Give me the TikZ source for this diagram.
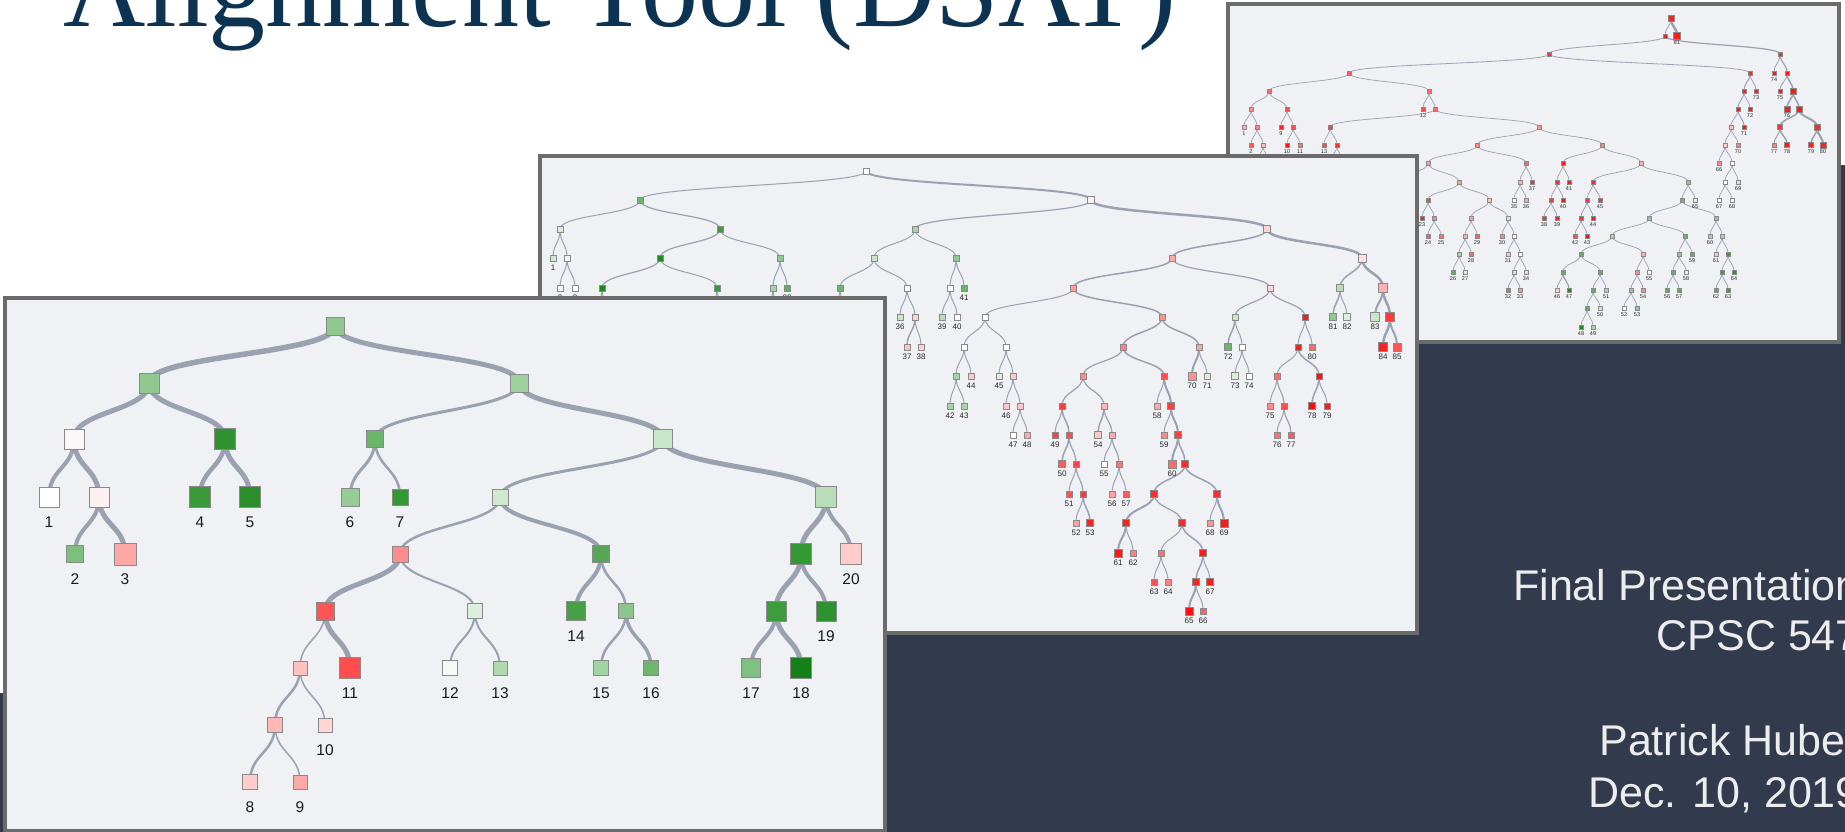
\documentclass[tikz,border=0pt]{standalone}
\usepackage{fontspec}
\setmainfont{Liberation Sans}
\newfontfamily\titlefont{Liberation Serif}
\usetikzlibrary{calc}
\definecolor{slidedark}{HTML}{323A4D}
\definecolor{titleblue}{HTML}{0C3352}
\definecolor{panelbg}{HTML}{EFF1F5}
\definecolor{panelframe}{HTML}{6B6B6B}
\definecolor{edgegray}{HTML}{9AA1B0}
\definecolor{sqborder}{HTML}{8A8A8A}
\definecolor{subtext}{HTML}{EDEDED}
\tikzset{
  panel/.style={fill=panelbg, draw=panelframe, line width=4pt},
  treeedge/.style={draw=edgegray, line cap=butt},
  sqbase/.style={rectangle, draw=sqborder, inner sep=0pt, outer sep=0pt},
  subline/.style={anchor=base east, text=subtext, inner sep=0pt, font=\fontsize{43}{50}\selectfont},
}
\newcommand\NdGhost[6]{\coordinate (#1) at (#2,#3);}
\newcommand\NdShow[6]{\definecolor{tmpc}{HTML}{#5}\node[treesq, minimum size=#4pt, fill=tmpc] (#1) at (#2,#3) {};\if\relax\detokenize{#6}\relax\else\node[treelbl] (#1-lbl) at (#2,#3+\lbloff) {#6};\fi}
\newcommand\TrEdge[3]{\draw[treeedge, line width=#3pt] let \p1=(#1), \p2=(#2), \p3=($(#1)!0.5!(#2)$) in (\p1) .. controls (\x1,\y3) and (\x2,\y3) .. (\p2);}

% ---------------- back tree ----------------
\newcommand\BackNodes{%
\TrNode{b0}{1671}{18}{6}{FF2020}{}%
\TrNode{b1}{1665}{36}{4}{FF1A1A}{}%
\TrNode{b81}{1677}{36}{7}{FF1A1A}{81}%
\TrNode{bL}{1549}{54}{4}{FF3030}{}%
\TrNode{b2}{1780}{54}{4}{FF2A2A}{}%
\TrNode{b3}{1349}{73}{4}{FF6060}{}%
\TrNode{b4}{1750}{73}{4}{FF2A2A}{}%
\TrNode{b5}{1269}{91}{4}{FF6A6A}{}%
\TrNode{b6}{1429}{91}{4}{FF6A6A}{}%
\TrNode{b7}{1251}{109}{4}{FF9090}{}%
\TrNode{b8}{1287}{109}{4}{FF4A4A}{}%
\TrNode{bl1}{1244}{127}{4}{FFB0B0}{1}%
\TrNode{b9}{1257}{127}{4}{FF8080}{}%
\TrNode{bl2}{1251}{145}{4}{FF5A5A}{2}%
\TrNode{bh1}{1263}{145}{4}{FFC0C0}{}%
\TrNode{bh1a}{1257}{163}{4}{FFC0C0}{}%
\TrNode{bh1b}{1269}{163}{4}{FFC0C0}{}%
\TrNode{bl9}{1281}{127}{4}{FF2020}{9}%
\TrNode{b10}{1293}{127}{4}{FF4A4A}{}%
\TrNode{bl10}{1287}{145}{4}{FF1010}{10}%
\TrNode{bl11}{1300}{145}{4}{FF7070}{11}%
\TrNode{bl12}{1423}{109}{4}{FF4A4A}{12}%
\TrNode{b12}{1435}{109}{4}{FF6A6A}{}%
\TrNode{b13}{1330}{127}{4}{FF3A3A}{}%
\TrNode{b14}{1539}{127}{4}{FF9090}{}%
\TrNode{bl13}{1324}{145}{4}{FF4A4A}{13}%
\TrNode{bh2}{1337}{145}{4}{FF3030}{}%
\TrNode{bh2a}{1330}{163}{4}{FF3030}{}%
\TrNode{bh2b}{1343}{163}{4}{FF3030}{}%
\TrNode{b15}{1477}{145}{4}{FF8080}{}%
\TrNode{b16}{1602}{145}{4}{FF8080}{}%
\TrNode{b17}{1428}{163}{4}{FF9A9A}{}%
\TrNode{b18}{1526}{163}{4}{FF6A6A}{}%
\TrNode{bh3}{1400}{182}{4}{FFAAAA}{}%
\TrNode{b19}{1459}{182}{4}{FF9A9A}{}%
\TrNode{b20}{1428}{200}{4}{FF4040}{}%
\TrNode{b21}{1489}{200}{4}{FFC0C0}{}%
\TrNode{bl23}{1422}{218}{4}{FF2020}{23}%
\TrNode{b22}{1434}{218}{4}{FF8080}{}%
\TrNode{bl24}{1428}{236}{4}{FF5A5A}{24}%
\TrNode{bl25}{1441}{236}{4}{FF7070}{25}%
\TrNode{b23}{1471}{218}{4}{FFA0A0}{}%
\TrNode{b24}{1508}{218}{4}{FFD0D0}{}%
\TrNode{b25}{1465}{236}{4}{FFB0B0}{}%
\TrNode{bl29}{1477}{236}{4}{FF6060}{29}%
\TrNode{b26}{1459}{254}{4}{A8D5A8}{}%
\TrNode{bl28}{1471}{254}{4}{FF6A6A}{28}%
\TrNode{bl26}{1453}{272}{4}{5DAE5D}{26}%
\TrNode{bl27}{1465}{272}{4}{DDEEDD}{27}%
\TrNode{bl30}{1502}{236}{4}{FF8888}{30}%
\TrNode{b27}{1514}{236}{4}{FFFFFF}{}%
\TrNode{bl31}{1508}{254}{4}{FFC0C0}{31}%
\TrNode{b28}{1520}{254}{4}{FFFFFF}{}%
\TrNode{b29}{1514}{272}{4}{C8E6C8}{}%
\TrNode{bl34}{1526}{272}{4}{FFD0D0}{34}%
\TrNode{bl32}{1508}{290}{4}{5DAE5D}{32}%
\TrNode{bl33}{1520}{290}{4}{FF9090}{33}%
\TrNode{b30}{1520}{182}{4}{FFB0B0}{}%
\TrNode{bl37}{1532}{182}{4}{FF2A2A}{37}%
\TrNode{bl35}{1514}{200}{4}{FFFFFF}{35}%
\TrNode{bl36}{1526}{200}{4}{FFA0A0}{36}%
\TrNode{b31}{1563}{163}{4}{FF1A1A}{}%
\TrNode{b32}{1641}{163}{4}{FFB0B0}{}%
\TrNode{b33}{1557}{182}{4}{FF2A2A}{}%
\TrNode{bl41}{1569}{182}{4}{FF1A1A}{41}%
\TrNode{b34}{1551}{200}{4}{FF3030}{}%
\TrNode{bl40}{1563}{200}{4}{FF1010}{40}%
\TrNode{bl38}{1544}{218}{4}{FF3030}{38}%
\TrNode{bl39}{1557}{218}{4}{FF2020}{39}%
\TrNode{b35}{1593}{182}{4}{FF2A2A}{}%
\TrNode{b36}{1688}{182}{4}{8FC98F}{}%
\TrNode{b37}{1587}{200}{4}{FF3030}{}%
\TrNode{bl45}{1600}{200}{4}{FF3030}{45}%
\TrNode{b38}{1581}{218}{4}{FF3030}{}%
\TrNode{bl44}{1593}{218}{4}{FF1A1A}{44}%
\TrNode{bl42}{1575}{236}{4}{FF4A4A}{42}%
\TrNode{bl43}{1587}{236}{4}{FF1010}{43}%
\TrNode{b39}{1682}{200}{4}{6DB46D}{}%
\TrNode{bl65}{1695}{200}{4}{DDEEDD}{65}%
\TrNode{b40}{1649}{218}{4}{8FC98F}{}%
\TrNode{b41}{1716}{218}{4}{8FC98F}{}%
\TrNode{b42}{1612}{236}{4}{A8D5A8}{}%
\TrNode{b44}{1685}{236}{4}{6DB46D}{}%
\TrNode{b45}{1581}{254}{4}{5DAE5D}{}%
\TrNode{b46}{1643}{254}{4}{FFB0B0}{}%
\TrNode{b47}{1563}{272}{4}{5DAE5D}{}%
\TrNode{b48}{1600}{272}{4}{5DAE5D}{}%
\TrNode{bl46}{1557}{290}{4}{FFD0D0}{46}%
\TrNode{bl47}{1569}{290}{4}{1E8C1E}{47}%
\TrNode{b49}{1593}{290}{4}{5DAE5D}{}%
\TrNode{bl51}{1606}{290}{4}{A8D5A8}{51}%
\TrNode{b50}{1587}{308}{4}{5DAE5D}{}%
\TrNode{bl50}{1600}{308}{4}{C8E6C8}{50}%
\TrNode{bl48}{1581}{327}{4}{1E8C1E}{48}%
\TrNode{bl49}{1593}{327}{4}{A8D5A8}{49}%
\TrNode{b51p}{1637}{272}{4}{FF8888}{}%
\TrNode{bl55}{1649}{272}{4}{FFFFFF}{55}%
\TrNode{b51}{1631}{290}{4}{8FC98F}{}%
\TrNode{bl54}{1643}{290}{4}{FF8888}{54}%
\TrNode{bl52}{1624}{308}{4}{FFFFFF}{52}%
\TrNode{bl53}{1637}{308}{4}{8FC98F}{53}%
\TrNode{b52}{1679}{254}{4}{8FC98F}{}%
\TrNode{bl59}{1692}{254}{4}{5DAE5D}{59}%
\TrNode{b52a}{1673}{272}{4}{5DAE5D}{}%
\TrNode{bl58}{1686}{272}{4}{DDEEDD}{58}%
\TrNode{bl56}{1667}{290}{4}{5DAE5D}{56}%
\TrNode{bl57}{1679}{290}{4}{5DAE5D}{57}%
\TrNode{bl60}{1710}{236}{4}{A8D5A8}{60}%
\TrNode{b53}{1722}{236}{4}{A8D5A8}{}%
\TrNode{bl61}{1716}{254}{4}{FFC0C0}{61}%
\TrNode{b54}{1728}{254}{4}{3E9C3E}{}%
\TrNode{b55}{1722}{272}{4}{3E9C3E}{}%
\TrNode{bl64}{1734}{272}{4}{2E922E}{64}%
\TrNode{bl62}{1716}{290}{4}{5DAE5D}{62}%
\TrNode{bl63}{1728}{290}{4}{3E9C3E}{63}%
\TrNode{b56}{1744}{91}{4}{FF1A1A}{}%
\TrNode{bl73}{1756}{91}{4}{FF1A1A}{73}%
\TrNode{b57}{1738}{109}{4}{FF1A1A}{}%
\TrNode{bl72}{1750}{109}{4}{FF1A1A}{72}%
\TrNode{b58}{1731}{127}{4}{FFC0C0}{}%
\TrNode{bl71}{1744}{127}{4}{FF1010}{71}%
\TrNode{b59}{1725}{145}{4}{FFD0D0}{}%
\TrNode{bl70}{1738}{145}{4}{FF8080}{70}%
\TrNode{bl66}{1719}{163}{4}{FF8888}{66}%
\TrNode{b60}{1732}{163}{4}{FFFFFF}{}%
\TrNode{b61}{1725}{182}{4}{FFFFFF}{}%
\TrNode{bl69}{1738}{182}{4}{FFD0D0}{69}%
\TrNode{bl67}{1719}{200}{4}{FFFFFF}{67}%
\TrNode{bl68}{1732}{200}{4}{FFFFFF}{68}%
\TrNode{bl74}{1774}{73}{4}{FF1A1A}{74}%
\TrNode{b62}{1787}{73}{4.5}{FF1A1A}{}%
\TrNode{bl75}{1780}{91}{4}{FF1A1A}{75}%
\TrNode{b63}{1793}{91}{5.5}{FF1A1A}{}%
\TrNode{bl76}{1787}{109}{5.5}{FF1A1A}{76}%
\TrNode{b64}{1799}{109}{5.5}{FF1A1A}{}%
\TrNode{b65}{1780}{127}{5}{FF3030}{}%
\TrNode{b66}{1817}{127}{5.5}{FF2A2A}{}%
\TrNode{bl77}{1774}{145}{4.5}{FF8080}{77}%
\TrNode{bl78}{1787}{145}{5}{FF1A1A}{78}%
\TrNode{bl79}{1811}{145}{5}{FF2020}{79}%
\TrNode{bl80}{1823}{145}{5.5}{FF2020}{80}%
}
\newcommand\BackEdges{%
\TrEdge{b0}{b1}{0.8}\TrEdge{b0}{b81}{2.5}\TrEdge{b1}{bL}{0.8}\TrEdge{b1}{b2}{1.2}%
\TrEdge{bL}{b3}{0.8}\TrEdge{bL}{b4}{0.8}\TrEdge{b3}{b5}{0.7}\TrEdge{b3}{b6}{0.7}%
\TrEdge{b5}{b7}{0.7}\TrEdge{b5}{b8}{0.7}\TrEdge{b7}{bl1}{0.7}\TrEdge{b7}{b9}{0.7}%
\TrEdge{b9}{bl2}{0.7}\TrEdge{b9}{bh1}{0.7}\TrEdge{bh1}{bh1a}{0.7}\TrEdge{bh1}{bh1b}{0.7}%
\TrEdge{b8}{bl9}{0.7}\TrEdge{b8}{b10}{0.7}\TrEdge{b10}{bl10}{0.7}\TrEdge{b10}{bl11}{0.7}%
\TrEdge{b6}{bl12}{0.7}\TrEdge{b6}{b12}{0.7}\TrEdge{b12}{b13}{0.7}\TrEdge{b12}{b14}{0.7}%
\TrEdge{b13}{bl13}{0.7}\TrEdge{b13}{bh2}{0.7}\TrEdge{bh2}{bh2a}{0.7}\TrEdge{bh2}{bh2b}{0.7}%
\TrEdge{b14}{b15}{0.7}\TrEdge{b14}{b16}{0.7}\TrEdge{b15}{b17}{0.7}\TrEdge{b15}{b18}{0.7}%
\TrEdge{b17}{bh3}{0.7}\TrEdge{b17}{b19}{0.7}\TrEdge{b19}{b20}{0.7}\TrEdge{b19}{b21}{0.7}%
\TrEdge{b20}{bl23}{0.7}\TrEdge{b20}{b22}{0.7}\TrEdge{b22}{bl24}{0.7}\TrEdge{b22}{bl25}{0.7}%
\TrEdge{b21}{b23}{0.7}\TrEdge{b21}{b24}{0.7}\TrEdge{b23}{b25}{0.7}\TrEdge{b23}{bl29}{0.7}%
\TrEdge{b25}{b26}{0.7}\TrEdge{b25}{bl28}{0.7}\TrEdge{b26}{bl26}{0.7}\TrEdge{b26}{bl27}{0.7}%
\TrEdge{b24}{bl30}{0.7}\TrEdge{b24}{b27}{0.7}\TrEdge{b27}{bl31}{0.7}\TrEdge{b27}{b28}{0.7}%
\TrEdge{b28}{b29}{0.7}\TrEdge{b28}{bl34}{0.7}\TrEdge{b29}{bl32}{0.7}\TrEdge{b29}{bl33}{0.7}%
\TrEdge{b18}{b30}{0.7}\TrEdge{b18}{bl37}{0.7}\TrEdge{b30}{bl35}{0.7}\TrEdge{b30}{bl36}{0.7}%
\TrEdge{b16}{b31}{0.7}\TrEdge{b16}{b32}{0.7}\TrEdge{b31}{b33}{0.7}\TrEdge{b31}{bl41}{0.7}%
\TrEdge{b33}{b34}{0.7}\TrEdge{b33}{bl40}{0.7}\TrEdge{b34}{bl38}{0.7}\TrEdge{b34}{bl39}{0.7}%
\TrEdge{b32}{b35}{0.7}\TrEdge{b32}{b36}{0.7}\TrEdge{b35}{b37}{0.7}\TrEdge{b35}{bl45}{0.7}%
\TrEdge{b37}{b38}{0.7}\TrEdge{b37}{bl44}{0.7}\TrEdge{b38}{bl42}{0.7}\TrEdge{b38}{bl43}{0.7}%
\TrEdge{b36}{b39}{0.7}\TrEdge{b36}{bl65}{0.7}\TrEdge{b39}{b40}{0.7}\TrEdge{b39}{b41}{0.7}%
\TrEdge{b40}{b42}{0.7}\TrEdge{b40}{b44}{0.7}\TrEdge{b42}{b45}{0.7}\TrEdge{b42}{b46}{0.7}%
\TrEdge{b45}{b47}{0.7}\TrEdge{b45}{b48}{0.7}\TrEdge{b47}{bl46}{0.7}\TrEdge{b47}{bl47}{1.2}%
\TrEdge{b48}{b49}{0.7}\TrEdge{b48}{bl51}{0.7}\TrEdge{b49}{b50}{0.7}\TrEdge{b49}{bl50}{0.7}%
\TrEdge{b50}{bl48}{0.7}\TrEdge{b50}{bl49}{0.7}\TrEdge{b46}{b51p}{0.7}\TrEdge{b46}{bl55}{0.7}%
\TrEdge{b51p}{b51}{0.7}\TrEdge{b51p}{bl54}{0.7}\TrEdge{b51}{bl52}{0.7}\TrEdge{b51}{bl53}{0.7}%
\TrEdge{b44}{b52}{0.7}\TrEdge{b44}{bl59}{0.7}\TrEdge{b52}{b52a}{0.7}\TrEdge{b52}{bl58}{0.7}%
\TrEdge{b52a}{bl56}{0.7}\TrEdge{b52a}{bl57}{0.7}\TrEdge{b41}{bl60}{0.7}\TrEdge{b41}{b53}{0.7}%
\TrEdge{b53}{bl61}{0.7}\TrEdge{b53}{b54}{0.7}\TrEdge{b54}{b55}{0.7}\TrEdge{b54}{bl64}{0.7}%
\TrEdge{b55}{bl62}{0.7}\TrEdge{b55}{bl63}{0.7}%
\TrEdge{b4}{b56}{1}\TrEdge{b4}{bl73}{0.7}\TrEdge{b56}{b57}{1}\TrEdge{b56}{bl72}{0.7}%
\TrEdge{b57}{b58}{0.7}\TrEdge{b57}{bl71}{1}\TrEdge{b58}{b59}{0.7}\TrEdge{b58}{bl70}{0.7}%
\TrEdge{b59}{bl66}{0.7}\TrEdge{b59}{b60}{0.7}\TrEdge{b60}{b61}{0.7}\TrEdge{b60}{bl69}{0.7}%
\TrEdge{b61}{bl67}{0.7}\TrEdge{b61}{bl68}{0.7}%
\TrEdge{b2}{bl74}{0.8}\TrEdge{b2}{b62}{1.2}\TrEdge{b62}{bl75}{0.8}\TrEdge{b62}{b63}{1.5}%
\TrEdge{b63}{bl76}{1.5}\TrEdge{b63}{b64}{1.5}\TrEdge{b64}{b65}{1.5}\TrEdge{b64}{b66}{2}%
\TrEdge{b65}{bl77}{1}\TrEdge{b65}{bl78}{1.5}\TrEdge{b66}{bl79}{1.5}\TrEdge{b66}{bl80}{2}%
}

% ---------------- middle tree ----------------
\newcommand\MidNodes{%
\TrNode{m0}{866}{171}{6}{FFFFFF}{}%
\TrNode{m1}{640}{200}{6}{6DB46D}{}%
\TrNode{m2}{1091}{200}{7}{FFF0F0}{}%
\TrNode{mA}{560}{229}{6}{D8EDD8}{}%
\TrNode{mB}{720}{229}{6}{3E9C3E}{}%
\TrNode{ma1}{553}{258}{6}{CFE8CF}{1}%
\TrNode{mA2}{567}{258}{6}{F5F5F5}{}%
\TrNode{ma2}{560}{288}{6}{F5F8F5}{2}%
\TrNode{ma3}{575}{288}{6}{FFFFFF}{3}%
\TrNode{mC}{660}{258}{6}{1E8C1E}{}%
\TrNode{mD}{780}{258}{6}{8FC98F}{}%
\TrNode{mc1}{602}{288}{6}{1A851A}{}%
\TrNode{mc2}{717}{288}{6}{3A9A3A}{}%
\TrNode{md1}{773}{288}{6}{A8D5A8}{}%
\TrNode{md2}{787}{288}{6}{5DAE5D}{22}%
\TrNode{mh1}{595}{317}{6}{FFFFFF}{}%
\TrNode{mh2}{609}{317}{6}{FFFFFF}{}%
\TrNode{mh3}{710}{317}{6}{FFFFFF}{}%
\TrNode{mh4}{724}{317}{6}{FFFFFF}{}%
\TrNode{mh5}{766}{317}{6}{FFFFFF}{}%
\TrNode{mh6}{780}{317}{6}{FFFFFF}{}%
\TrNode{mh7}{833}{317}{6}{FFFFFF}{}%
\TrNode{mh8}{847}{317}{6}{FFFFFF}{}%
\TrNode{mE}{915}{229}{6}{A8D5A8}{}%
\TrNode{mF}{874}{258}{6}{C8E6C8}{}%
\TrNode{mG}{956}{258}{6}{8FC98F}{}%
\TrNode{mf1}{840}{288}{6}{6DB46D}{}%
\TrNode{mf2}{907}{288}{6}{FFFFFF}{}%
\TrNode{m36}{900}{317}{6}{C8E6C8}{36}%
\TrNode{mH}{915}{317}{6}{FFD0D0}{}%
\TrNode{m37}{907}{347}{6}{FFC0C0}{37}%
\TrNode{m38}{921}{347}{6}{FFD0D0}{38}%
\TrNode{mI}{950}{288}{6}{FFFFFF}{}%
\TrNode{m41}{964}{288}{6}{6DB46D}{41}%
\TrNode{m39}{942}{317}{6}{B8DDB8}{39}%
\TrNode{m40}{957}{317}{6}{FFFFFF}{40}%
\TrNode{mJ}{985}{317}{6}{FFFFFF}{}%
\TrNode{mL}{964}{347}{6}{FFFFFF}{}%
\TrNode{mM}{1006}{347}{6}{FFFFFF}{}%
\TrNode{mN}{956}{376}{6}{A8D5A8}{}%
\TrNode{m44}{971}{376}{6}{FFC8C8}{44}%
\TrNode{m42}{950}{406}{6}{A8D5A8}{42}%
\TrNode{m43}{964}{406}{6}{A8D5A8}{43}%
\TrNode{m45}{999}{376}{6}{DDEEDD}{45}%
\TrNode{mO}{1013}{376}{6}{FFC8C8}{}%
\TrNode{m46}{1006}{406}{6}{FFC8C8}{46}%
\TrNode{mP}{1020}{406}{6}{FFC8C8}{}%
\TrNode{m47}{1013}{435}{6}{FFFFFF}{47}%
\TrNode{m48}{1027}{435}{6}{FFA8A8}{48}%
\TrNode{mQ}{1267}{229}{7}{FFD6D6}{}%
\TrNode{mR}{1172}{258}{6}{FFAAAA}{}%
\TrNode{mS}{1362}{258}{8}{FFE0E0}{}%
\TrNode{mK}{1073}{288}{6}{FF9A9A}{}%
\TrNode{mT}{1270}{288}{6}{FFD6D6}{}%
\TrNode{mU}{1162}{317}{6}{FF9090}{}%
\TrNode{mV}{1123}{347}{6}{FF8080}{}%
\TrNode{mW}{1199}{347}{6}{FFA0A0}{}%
\TrNode{mX}{1083}{376}{6}{FF8888}{}%
\TrNode{mY}{1164}{376}{6}{FF5050}{}%
\TrNode{mZ}{1062}{406}{6}{FF3A3A}{}%
\TrNode{mAA}{1104}{406}{6}{FFB8B8}{}%
\TrNode{m49}{1055}{435}{6}{FF4040}{49}%
\TrNode{n50p}{1069}{435}{6}{FF4A4A}{}%
\TrNode{m50}{1062}{464}{7}{FF5A5A}{50}%
\TrNode{n51p}{1076}{464}{6}{FF4545}{}%
\TrNode{m51}{1069}{494}{6}{FF5050}{51}%
\TrNode{n52p}{1083}{494}{6}{FF3A3A}{}%
\TrNode{m52}{1076}{523}{6}{FFA0A0}{52}%
\TrNode{m53}{1090}{523}{7}{FF2020}{53}%
\TrNode{m54}{1098}{435}{7}{FFC8C8}{54}%
\TrNode{n55p}{1112}{435}{6}{FFAAAA}{}%
\TrNode{m55}{1104}{464}{6}{FFFFFF}{55}%
\TrNode{n56p}{1119}{464}{6}{FF7070}{}%
\TrNode{m56}{1112}{494}{6}{FFA0A0}{56}%
\TrNode{m57}{1126}{494}{6}{FF5A5A}{57}%
\TrNode{m58}{1157}{406}{6}{FFAAAA}{58}%
\TrNode{n59p}{1171}{406}{7}{FF4040}{}%
\TrNode{m59}{1164}{435}{6}{FF8888}{59}%
\TrNode{n60p}{1178}{435}{7}{FF4040}{}%
\TrNode{m60}{1172}{464}{8}{FF6A6A}{60}%
\TrNode{n61p}{1185}{464}{7}{FF2A2A}{}%
\TrNode{n61a}{1154}{494}{7}{FF2A2A}{}%
\TrNode{n68p}{1217}{494}{7}{FF2A2A}{}%
\TrNode{n61b}{1126}{523}{7}{FF2020}{}%
\TrNode{n63p}{1182}{523}{7}{FF2A2A}{}%
\TrNode{m61}{1118}{553}{8}{FF1A1A}{61}%
\TrNode{m62}{1133}{553}{6}{FF8080}{62}%
\TrNode{n63a}{1161}{553}{6}{FF7070}{}%
\TrNode{n65p}{1203}{553}{7}{FF1A1A}{}%
\TrNode{m63}{1154}{582}{6}{FF5050}{63}%
\TrNode{m64}{1168}{582}{6}{FF8080}{64}%
\TrNode{n65a}{1196}{582}{7}{FF2020}{}%
\TrNode{m67}{1210}{582}{7}{FF1A1A}{67}%
\TrNode{m65}{1189}{611}{8}{FF1010}{65}%
\TrNode{m66}{1203}{611}{6}{FF6060}{66}%
\TrNode{m68}{1210}{523}{6}{FF9090}{68}%
\TrNode{m69}{1224}{523}{8}{FF1A1A}{69}%
\TrNode{m70}{1192}{376}{8}{FF9090}{70}%
\TrNode{m71}{1207}{376}{6}{DDEEDD}{71}%
\TrNode{mT1}{1235}{317}{6}{C8E6C8}{}%
\TrNode{mT2}{1305}{317}{6}{FF1A1A}{}%
\TrNode{m72}{1228}{347}{7}{6DB46D}{72}%
\TrNode{mT3}{1242}{347}{6}{FFFFFF}{}%
\TrNode{m73}{1235}{376}{7}{DDEEDD}{73}%
\TrNode{m74}{1249}{376}{6}{FFFFFF}{74}%
\TrNode{mT4}{1298}{347}{6}{FF1A1A}{}%
\TrNode{m80}{1312}{347}{6}{FF6A6A}{80}%
\TrNode{mT5}{1277}{376}{6}{FF6A6A}{}%
\TrNode{mT6}{1319}{376}{6}{FF1010}{}%
\TrNode{m75}{1270}{406}{6}{FF8888}{75}%
\TrNode{mT7}{1284}{406}{6}{FF5050}{}%
\TrNode{m76}{1277}{435}{6}{FF7070}{76}%
\TrNode{m77}{1291}{435}{6}{FF5A5A}{77}%
\TrNode{m78}{1312}{406}{7}{FF0A0A}{78}%
\TrNode{m79}{1327}{406}{6}{FF1A1A}{79}%
\TrNode{mS1}{1340}{288}{7}{B8DDB8}{}%
\TrNode{mS2}{1383}{288}{9}{FFB0B0}{}%
\TrNode{m81}{1333}{317}{7}{8FC98F}{81}%
\TrNode{m82}{1347}{317}{7}{DDEEDD}{82}%
\TrNode{m83}{1375}{317}{9}{C8E6C8}{83}%
\TrNode{mS3}{1390}{317}{9}{FF3A3A}{}%
\TrNode{m84}{1383}{347}{9}{FF2020}{84}%
\TrNode{m85}{1397}{347}{8}{FF5555}{85}%
}
\newcommand\MidEdges{%
\TrEdge{m0}{m1}{1}\TrEdge{m0}{m2}{2}\TrEdge{m1}{mA}{1}\TrEdge{m1}{mB}{1.2}%
\TrEdge{mA}{ma1}{1}\TrEdge{mA}{mA2}{1}\TrEdge{mA2}{ma2}{1}\TrEdge{mA2}{ma3}{1}%
\TrEdge{mB}{mC}{1.2}\TrEdge{mB}{mD}{1}\TrEdge{mC}{mc1}{1.2}\TrEdge{mC}{mc2}{1}%
\TrEdge{mD}{md1}{1}\TrEdge{mD}{md2}{1}%
\TrEdge{mc1}{mh1}{1}\TrEdge{mc1}{mh2}{1}\TrEdge{mc2}{mh3}{1}\TrEdge{mc2}{mh4}{1}%
\TrEdge{md1}{mh5}{1}\TrEdge{md1}{mh6}{1}\TrEdge{mf1}{mh7}{1}\TrEdge{mf1}{mh8}{1}%
\TrEdge{m2}{mE}{1.2}\TrEdge{m2}{mQ}{2.5}\TrEdge{mE}{mF}{1}\TrEdge{mE}{mG}{1}%
\TrEdge{mF}{mf1}{1}\TrEdge{mF}{mf2}{1}\TrEdge{mf2}{m36}{1}\TrEdge{mf2}{mH}{1}%
\TrEdge{mH}{m37}{1.5}\TrEdge{mH}{m38}{1}\TrEdge{mG}{mI}{1}\TrEdge{mG}{m41}{1}%
\TrEdge{mI}{m39}{1}\TrEdge{mI}{m40}{1}\TrEdge{mK}{mJ}{1}\TrEdge{mJ}{mL}{1}\TrEdge{mJ}{mM}{1}%
\TrEdge{mL}{mN}{1}\TrEdge{mL}{m44}{1}\TrEdge{mN}{m42}{1}\TrEdge{mN}{m43}{1}%
\TrEdge{mM}{m45}{1}\TrEdge{mM}{mO}{1}\TrEdge{mO}{m46}{1}\TrEdge{mO}{mP}{1}%
\TrEdge{mP}{m47}{1}\TrEdge{mP}{m48}{1}%
\TrEdge{mQ}{mR}{1.5}\TrEdge{mQ}{mS}{2.5}\TrEdge{mR}{mK}{1.5}\TrEdge{mR}{mT}{1.2}%
\TrEdge{mK}{mU}{1.5}\TrEdge{mU}{mV}{1.5}\TrEdge{mU}{mW}{1.5}\TrEdge{mV}{mX}{1.2}\TrEdge{mV}{mY}{1.5}%
\TrEdge{mX}{mZ}{1.2}\TrEdge{mX}{mAA}{1.2}\TrEdge{mZ}{m49}{1}\TrEdge{mZ}{n50p}{1.5}%
\TrEdge{n50p}{m50}{1.5}\TrEdge{n50p}{n51p}{1.2}\TrEdge{n51p}{m51}{1}\TrEdge{n51p}{n52p}{1.2}%
\TrEdge{n52p}{m52}{1}\TrEdge{n52p}{m53}{1.5}\TrEdge{mAA}{m54}{1.5}\TrEdge{mAA}{n55p}{1.2}%
\TrEdge{n55p}{m55}{1}\TrEdge{n55p}{n56p}{1.2}\TrEdge{n56p}{m56}{1}\TrEdge{n56p}{m57}{1}%
\TrEdge{mY}{m58}{1}\TrEdge{mY}{n59p}{2}\TrEdge{n59p}{m59}{1}\TrEdge{n59p}{n60p}{2}%
\TrEdge{n60p}{m60}{2}\TrEdge{n60p}{n61p}{1.5}\TrEdge{n61p}{n61a}{1.5}\TrEdge{n61p}{n68p}{1.5}%
\TrEdge{n61a}{n61b}{2}\TrEdge{n61a}{n63p}{1.2}\TrEdge{n61b}{m61}{2}\TrEdge{n61b}{m62}{1}%
\TrEdge{n63p}{n63a}{1}\TrEdge{n63p}{n65p}{1.5}\TrEdge{n63a}{m63}{1}\TrEdge{n63a}{m64}{1}%
\TrEdge{n65p}{n65a}{1.5}\TrEdge{n65p}{m67}{1}\TrEdge{n65a}{m65}{2}\TrEdge{n65a}{m66}{1}%
\TrEdge{n68p}{m68}{1}\TrEdge{n68p}{m69}{2}\TrEdge{mW}{m70}{2}\TrEdge{mW}{m71}{1}%
\TrEdge{mT}{mT1}{1.2}\TrEdge{mT}{mT2}{1.2}\TrEdge{mT1}{m72}{1.5}\TrEdge{mT1}{mT3}{1}%
\TrEdge{mT3}{m73}{1}\TrEdge{mT3}{m74}{1}\TrEdge{mT2}{mT4}{1}\TrEdge{mT2}{m80}{1}%
\TrEdge{mT4}{mT5}{1}\TrEdge{mT4}{mT6}{1.5}\TrEdge{mT5}{m75}{1}\TrEdge{mT5}{mT7}{1.2}%
\TrEdge{mT7}{m76}{1}\TrEdge{mT7}{m77}{1.2}\TrEdge{mT6}{m78}{1.5}\TrEdge{mT6}{m79}{1}%
\TrEdge{mS}{mS1}{1.5}\TrEdge{mS}{mS2}{2.5}\TrEdge{mS1}{m81}{1.5}\TrEdge{mS1}{m82}{1}%
\TrEdge{mS2}{m83}{2}\TrEdge{mS2}{mS3}{2.5}\TrEdge{mS3}{m84}{2.5}\TrEdge{mS3}{m85}{2}%
}

% ---------------- front tree ----------------
\newcommand\FrontNodes{%
\TrNode{f0}{335}{326}{18}{90C890}{}%
\TrNode{fA}{149}{383}{20}{8FC98F}{}%
\TrNode{fB}{74}{439}{20}{FDF8F8}{}%
\TrNode{fC}{225}{439}{21}{2E922E}{}%
\TrNode{f1}{49}{497}{20}{FFFFFF}{1}%
\TrNode{fD}{99}{497}{20}{FCF0F0}{}%
\TrNode{f2}{75}{554}{17}{7DBF7D}{2}%
\TrNode{f3}{125}{554}{22}{FFA6A6}{3}%
\TrNode{f4}{200}{497}{21}{3A9A3A}{4}%
\TrNode{f5}{250}{497}{21}{2A8F2A}{5}%
\TrNode{fG}{519}{383}{18}{9DD19D}{}%
\TrNode{fE}{375}{439}{17}{6DB46D}{}%
\TrNode{f6}{350}{497}{18}{95CC95}{6}%
\TrNode{f7}{400}{497}{16}{339933}{7}%
\TrNode{fH}{663}{439}{19}{C8E6C8}{}%
\TrNode{fI}{500}{497}{16}{CFE8CF}{}%
\TrNode{fJ}{826}{497}{21}{B8DDB8}{}%
\TrNode{fF}{400}{554}{16}{FF8C8C}{}%
\TrNode{fK}{601}{554}{17}{56A856}{}%
\TrNode{fL}{801}{554}{21}{339933}{}%
\TrNode{f20}{851}{554}{21}{FFCCCC}{20}%
\TrNode{fM}{325}{611}{18}{FF5555}{}%
\TrNode{fP}{475}{611}{15}{DDEEDD}{}%
\TrNode{fN}{300}{668}{14}{FFC0C0}{}%
\TrNode{f11}{350}{668}{21}{FF4C4C}{11}%
\TrNode{fO}{275}{725}{15}{FFB8B8}{}%
\TrNode{f10}{325}{725}{14}{FFD6D6}{10}%
\TrNode{f8}{250}{782}{15}{FFCCCC}{8}%
\TrNode{f9}{300}{782}{14}{FFA8A8}{9}%
\TrNode{f12}{450}{668}{15}{F5FAF5}{12}%
\TrNode{f13}{500}{668}{14}{B0D9B0}{13}%
\TrNode{f14}{576}{611}{19}{46A046}{14}%
\TrNode{fQ}{626}{611}{15}{8BC58B}{}%
\TrNode{f15}{601}{668}{15}{A2D3A2}{15}%
\TrNode{f16}{651}{668}{15}{6DB66D}{16}%
\TrNode{fR}{776}{611}{20}{3E9C3E}{}%
\TrNode{f19}{826}{611}{20}{2E922E}{19}%
\TrNode{f17}{751}{668}{19}{80C080}{17}%
\TrNode{f18}{801}{668}{21}{15801A}{18}%
}
\newcommand\FrontEdges{%
\TrEdge{f0}{fA}{5.5}\TrEdge{f0}{fG}{5}\TrEdge{fA}{fB}{5}\TrEdge{fA}{fC}{5}%
\TrEdge{fB}{f1}{4}\TrEdge{fB}{fD}{5}\TrEdge{fD}{f2}{4}\TrEdge{fD}{f3}{5}%
\TrEdge{fC}{f4}{4.5}\TrEdge{fC}{f5}{5}\TrEdge{fG}{fE}{3}\TrEdge{fG}{fH}{5}%
\TrEdge{fE}{f6}{3}\TrEdge{fE}{f7}{2.5}\TrEdge{fH}{fI}{3}\TrEdge{fH}{fJ}{5}%
\TrEdge{fI}{fF}{2.5}\TrEdge{fI}{fK}{4}\TrEdge{fF}{fM}{5}\TrEdge{fF}{fP}{2}%
\TrEdge{fM}{fN}{1.5}\TrEdge{fM}{f11}{5}\TrEdge{fN}{fO}{2.5}\TrEdge{fN}{f10}{1.5}%
\TrEdge{fO}{f8}{2.5}\TrEdge{fO}{f9}{1.5}\TrEdge{fP}{f12}{2}\TrEdge{fP}{f13}{2}%
\TrEdge{fK}{f14}{4}\TrEdge{fK}{fQ}{2.5}\TrEdge{fQ}{f15}{2.5}\TrEdge{fQ}{f16}{3.5}%
\TrEdge{fJ}{fL}{5}\TrEdge{fJ}{f20}{4}\TrEdge{fL}{fR}{5}\TrEdge{fL}{f19}{4}%
\TrEdge{fR}{f17}{4}\TrEdge{fR}{f18}{5}%
}

\begin{document}
\begin{tikzpicture}[x=1pt,y=-1pt]
\useasboundingbox (0,0) rectangle (1845,832);
\clip (0,0) rectangle (1845,832);
% slide background
\fill[white] (0,0) rectangle (1845,832);
\fill[slidedark] (0,165) rectangle (1845,832);
\fill[white] (0,0) rectangle (885,693);
% title (cut off at the top)
\node[anchor=base west, inner sep=0pt, text=titleblue, font=\titlefont\fontsize{114}{114}\selectfont] (title) at (63,27) {Alignment Tool (DSAT)};
% subtitle block
\node[subline] (sub1) at (1860,600) {Final Presentation};
\node[subline] (sub2) at (1860,650) {CPSC 547};
\node[subline] (sub3) at (1860,755) {Patrick Huber};
\node[subline] (sub4) at (1860,807) {Dec. 10, 2019};

% ===== back screenshot =====
\filldraw[panel] (1228,4) rectangle (1839,342);
\tikzset{treesq/.style={sqbase, line width=0.4pt}, treelbl/.style={inner sep=0pt, text=black!85, font=\fontsize{5.5}{5.5}\selectfont}}
\def\lbloff{7}
\let\TrNode\NdGhost \BackNodes
\BackEdges
\let\TrNode\NdShow \BackNodes

% ===== middle screenshot =====
\filldraw[panel] (540,156) rectangle (1417,633);
\tikzset{treesq/.style={sqbase, line width=0.5pt}, treelbl/.style={inner sep=0pt, text=black!85, font=\fontsize{8}{8}\selectfont}}
\def\lbloff{10}
\let\TrNode\NdGhost \MidNodes
\MidEdges
\let\TrNode\NdShow \MidNodes

% ===== front screenshot =====
\filldraw[panel] (5,298) rectangle (885,831);
\tikzset{treesq/.style={sqbase, line width=0.9pt}, treelbl/.style={inner sep=0pt, text=black!90, font=\fontsize{15.5}{15.5}\selectfont}}
\def\lbloff{25}
\let\TrNode\NdGhost \FrontNodes
\FrontEdges
\let\TrNode\NdShow \FrontNodes
\end{tikzpicture}
\end{document}
